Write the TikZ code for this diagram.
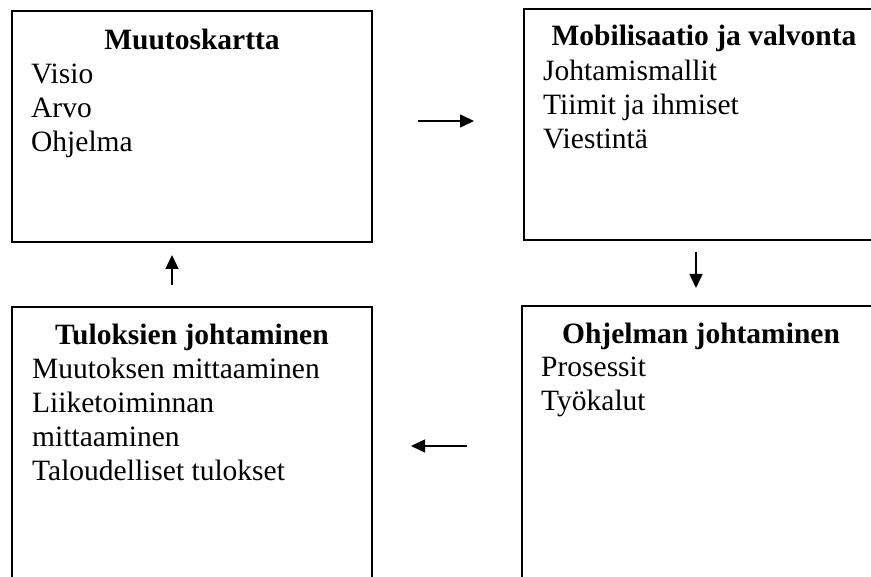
\documentclass[tikz,border=0pt]{standalone}
\usepackage{fontspec}
\setmainfont{Liberation Serif}
\usetikzlibrary{arrows.meta}
\begin{document}
\begin{tikzpicture}[x=1pt,y=-1pt,
  panel/.style={draw=black, line width=1.4pt, fill=none, inner sep=0pt, outer sep=0pt, anchor=north west},
  heading/.style={font=\fontsize{29.5}{34}\selectfont\bfseries, inner sep=0pt, anchor=base},
  entry/.style={font=\fontsize{29.5}{34}\selectfont, inner sep=0pt, anchor=base west},
  flow/.style={line width=1.5pt, -{Triangle[length=14pt,width=13pt]}}]
  \useasboundingbox (0,0) rectangle (871,577);
  \clip (0,0) rectangle (871,577);

  % four panels
  \node[panel, minimum width=360pt, minimum height=231pt] (map) at (12,11) {};
  \node[panel, minimum width=360pt, minimum height=231pt] (mob) at (524,9) {};
  \node[panel, minimum width=360pt, minimum height=320pt] (res) at (12,307) {};
  \node[panel, minimum width=358pt, minimum height=320pt] (prog) at (522,306) {};

  % Muutoskartta
  \node[heading] (mapT) at (192,50) {Muutoskartta};
  \node[entry] (map1) at (31,84) {Visio};
  \node[entry] (map2) at (31,118) {Arvo};
  \node[entry] (map3) at (31,152) {Ohjelma};

  % Mobilisaatio ja valvonta
  \node[heading] (mobT) at (704,46) {Mobilisaatio ja valvonta};
  \node[entry] (mob1) at (543,81) {Johtamismallit};
  \node[entry] (mob2) at (543,115) {Tiimit ja ihmiset};
  \node[entry] (mob3) at (543,149) {Viestintä};

  % Ohjelman johtaminen
  \node[heading] (progT) at (701,344) {Ohjelman johtaminen};
  \node[entry] (prog1) at (541,377) {Prosessit};
  \node[entry] (prog2) at (541,411) {Työkalut};

  % Tuloksien johtaminen
  \node[heading] (resT) at (192,345) {Tuloksien johtaminen};
  \node[entry] (res1) at (32,379) {Muutoksen mittaaminen};
  \node[entry] (res2) at (32,413) {Liiketoiminnan};
  \node[entry] (res3) at (32,447) {mittaaminen};
  \node[entry] (res4) at (32,481) {Taloudelliset tulokset};

  % arrow end points in the gaps between panels
  \coordinate (r0) at (418,121);
  \coordinate (r1) at (474,121);
  \coordinate (d0) at (696,252);
  \coordinate (d1) at (696,288);
  \coordinate (l0) at (467,446);
  \coordinate (l1) at (411,446);
  \coordinate (u0) at (172,285);
  \coordinate (u1) at (172,255);

  \draw[flow] (r0) -- (r1);
  \draw[flow] (d0) -- (d1);
  \draw[flow] (l0) -- (l1);
  \draw[flow] (u0) -- (u1);
\end{tikzpicture}
\end{document}
